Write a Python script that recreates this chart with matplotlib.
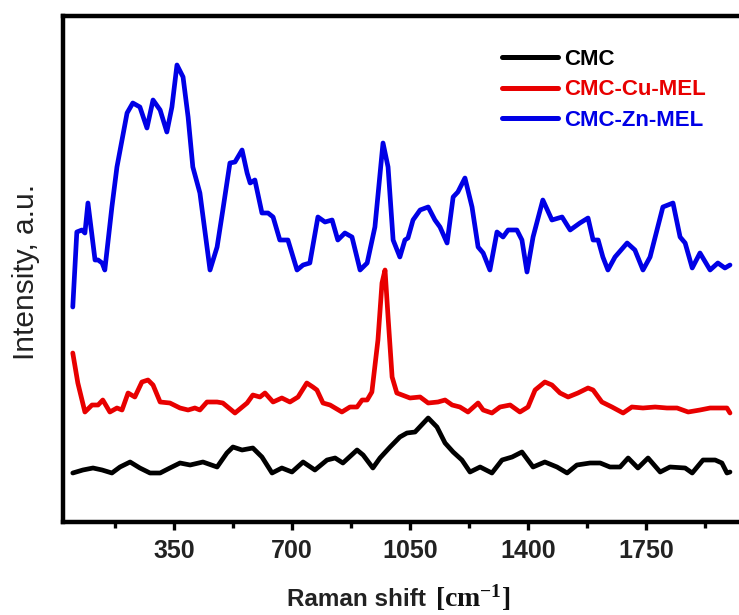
import matplotlib
matplotlib.use('Agg')
import matplotlib.pyplot as plt
from matplotlib.ticker import MultipleLocator

# Raman spectra (wavenumber in cm-1, intensity in a.u. with offsets as plotted)
zn_shift = [50, 62, 77, 86, 95, 116, 125, 137, 145, 166, 181, 211, 228, 249, 270, 288, 309, 329, 344, 359,
            377, 392, 406, 427, 457, 478, 495, 516, 531, 552, 567, 576, 590, 611, 629, 644, 664, 688, 715, 733,
            753, 777, 798, 819, 836, 857, 878, 902, 923, 946, 970, 985, 1000, 1020, 1035, 1044, 1059, 1080, 1104, 1124,
            1139, 1160, 1178, 1192, 1213, 1234, 1252, 1267, 1287, 1308, 1326, 1341, 1367, 1382, 1397, 1415, 1444, 1471, 1501, 1525,
            1554, 1578, 1593, 1608, 1622, 1637, 1658, 1694, 1717, 1741, 1762, 1800, 1830, 1851, 1866, 1887, 1910, 1940, 1963, 1984,
            1999]
zn_int = [215, 290, 292, 289, 319, 262, 262, 259, 252, 315, 355, 409, 419, 415, 394, 422, 412, 390, 415, 457,
          445, 405, 355, 329, 252, 275, 312, 359, 360, 372, 349, 339, 342, 309, 309, 305, 282, 282, 252, 257,
          259, 305, 300, 302, 282, 289, 285, 252, 259, 295, 379, 355, 282, 265, 282, 284, 302, 312, 315, 302,
          295, 279, 325, 330, 344, 315, 275, 269, 252, 290, 285, 292, 292, 282, 250, 285, 322, 302, 305, 292,
          299, 304, 282, 282, 265, 252, 265, 279, 272, 252, 265, 315, 319, 285, 279, 254, 269, 252, 259, 254,
          257]

cu_shift = [50, 65, 86, 107, 125, 139, 160, 181, 196, 214, 234, 255, 273, 288, 309, 338, 368, 392, 412, 427,
            448, 478, 495, 531, 567, 584, 605, 620, 644, 670, 694, 718, 744, 762, 774, 792, 813, 848, 872, 893,
            908, 923, 937, 955, 967, 976, 985, 997, 1011, 1050, 1080, 1104, 1133, 1154, 1175, 1198, 1222, 1252, 1267, 1293,
            1317, 1347, 1376, 1400, 1421, 1450, 1471, 1495, 1519, 1548, 1578, 1593, 1619, 1649, 1682, 1708, 1741, 1777, 1812, 1842,
            1875, 1910, 1940, 1969, 1990, 1999]
cu_int = [169, 139, 110, 117, 117, 122, 110, 114, 112, 129, 125, 140, 142, 137, 120, 119, 114, 112, 114, 112,
          120, 120, 119, 109, 119, 127, 125, 129, 120, 124, 120, 125, 139, 135, 132, 119, 117, 110, 115, 115,
          122, 122, 130, 182, 239, 252, 205, 145, 129, 124, 125, 119, 120, 122, 117, 115, 110, 119, 112, 109,
          115, 117, 110, 115, 132, 140, 137, 129, 125, 129, 134, 132, 120, 115, 109, 115, 114, 115, 114, 114,
          110, 112, 114, 114, 114, 109]

cmc_shift = [50, 80, 110, 137, 166, 190, 220, 249, 279, 309, 338, 368, 398, 436, 478, 507, 525, 552, 584, 611,
             641, 670, 700, 733, 768, 804, 828, 851, 893, 911, 940, 961, 991, 1020, 1041, 1065, 1104, 1130, 1154, 1178,
             1204, 1228, 1258, 1293, 1323, 1353, 1382, 1415, 1450, 1486, 1516, 1545, 1584, 1614, 1643, 1673, 1697, 1726, 1756, 1792,
             1821, 1866, 1887, 1919, 1955, 1975, 1990, 1999]
cmc_int = [49, 52, 54, 52, 49, 55, 60, 54, 49, 49, 54, 59, 57, 60, 55, 69, 75, 72, 74, 65,
           49, 54, 50, 60, 52, 62, 64, 59, 72, 67, 54, 64, 75, 85, 89, 90, 104, 95, 79, 70,
           62, 50, 55, 49, 62, 65, 70, 55, 60, 55, 49, 57, 59, 59, 55, 55, 64, 54, 64, 50,
           55, 54, 49, 62, 62, 59, 49, 50]

labels = ['CMC', 'CMC-Cu-MEL', 'CMC-Zn-MEL']
colors = ['#000000', '#e80000', '#0000e6']
x_ticks = [350, 700, 1050, 1400, 1750]

plt.rcParams['font.family'] = ['Liberation Sans', 'DejaVu Sans']
plt.rcParams['mathtext.default'] = 'regular'

fig = plt.figure(figsize=(7.39, 6.15), dpi=100)
# axes run past the right edge, like the cropped original
ax = fig.add_axes([63/739, 93/615, 697/739, 506/615])

line_kw = dict(lw=3.4, solid_joinstyle='round', solid_capstyle='round')
ax.plot(cmc_shift, cmc_int, color=colors[0], label=labels[0], **line_kw)
ax.plot(cu_shift, cu_int, color=colors[1], label=labels[1], **line_kw)
ax.plot(zn_shift, zn_int, color=colors[2], label=labels[2], **line_kw)

ax.set_xlim(21, 2088)
ax.set_ylim(0, 506)
ax.set_xticks(x_ticks)
ax.xaxis.set_minor_locator(MultipleLocator(175))
ax.set_yticks([])
for s in ax.spines.values():
    s.set_linewidth(3.2)
ax.tick_params(axis='x', which='major', direction='out', length=6, width=2.4, pad=6)
ax.tick_params(axis='x', which='minor', direction='out', length=4, width=2.4)
for t in ax.get_xticklabels():
    t.set_fontsize(18)
    t.set_fontweight('bold')
    t.set_color('#222222')

# axis labels
fig.text(26/739, 1 - 272/615, 'Intensity, a.u.', rotation=90, ha='center', va='center',
         fontsize=21.5, color='#222222')
fig.text(433/739, 1 - 600/615, 'Raman shift ', ha='right', va='center', fontsize=17.5,
         fontweight='bold', color='#222222')
fig.text(435/739, 1 - 598/615, '[cm$^{-1}$]', ha='left', va='center', fontsize=20,
         fontweight='bold', family='Liberation Serif', color='#111111')

# legend, text coloured like the lines
leg = ax.legend(loc='upper left', bbox_to_anchor=(502/739, 1 - 49/615), bbox_transform=fig.transFigure,
                frameon=False, borderpad=0, borderaxespad=0, handlelength=2.5, handletextpad=0.31,
                labelspacing=0.42, prop={'weight': 'bold', 'size': 16})
for txt, line in zip(leg.get_texts(), leg.get_lines()):
    txt.set_color(line.get_color())
    line.set_linewidth(3.6)

fig.savefig('out.png', dpi=100)
